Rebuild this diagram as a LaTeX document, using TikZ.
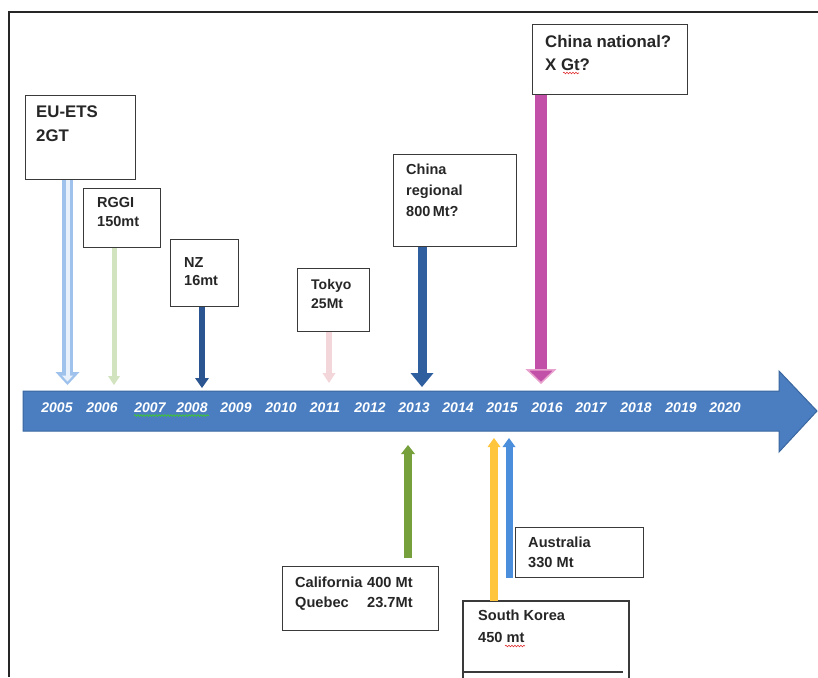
\documentclass[tikz,border=0pt]{standalone}
\usepackage{fontspec}
\setmainfont{Liberation Sans}
\usetikzlibrary{arrows.meta,decorations.pathmorphing}
\definecolor{boxgray}{HTML}{3A3A3A}
\definecolor{txtgray}{HTML}{262626}
\definecolor{tlfill}{HTML}{4A7EC0}
\definecolor{tledge}{HTML}{3A66A0}
\definecolor{euout}{HTML}{9FC2EC}
\definecolor{euin}{HTML}{E8F1FB}
\definecolor{rggicol}{HTML}{D2E3C0}
\definecolor{nzcol}{HTML}{2B5590}
\definecolor{tokcol}{HTML}{F3D6DA}
\definecolor{chrcol}{HTML}{2F5F9F}
\definecolor{chncol}{HTML}{C24FA8}
\definecolor{chnhead}{HTML}{E9A3CF}
\definecolor{calcol}{HTML}{76A03C}
\definecolor{korcol}{HTML}{FEC53D}
\definecolor{auscol}{HTML}{4B8FDC}
\definecolor{spellgreen}{HTML}{40C040}
\definecolor{spellred}{HTML}{E03030}
\begin{document}
\begin{tikzpicture}[x=1pt,y=-1pt,
  box/.style={draw=boxgray, line width=1.2pt, fill=white, inner sep=0pt, anchor=north west},
  boxtxt/.style={anchor=north west, inner sep=0pt, align=left, text=txtgray,
    font=\bfseries\fontsize{14.6}{20}\selectfont},
  bigtxt/.style={boxtxt, font=\bfseries\fontsize{16.8}{23.5}\selectfont},
  yr/.style={anchor=base, inner sep=0pt, text=white, font=\bfseries\itshape\fontsize{14}{14}\selectfont},
  spell/.style={decorate, decoration={snake, segment length=3pt, amplitude=0.8pt}, line width=0.6pt}
]
\useasboundingbox (0,0) rectangle (818,677);
% frame
\draw[line width=2pt, black!85] (818,12) -- (9,12) -- (9,677);

% timeline arrow
\draw[fill=tlfill, draw=tledge, line width=1pt]
  (23,391) -- (779,391) -- (779,371) -- (817,411) -- (779,452) -- (779,431) -- (23,431) -- cycle;

% years
\node[yr] (y05) at (57,412) {2005};
\node[yr] (y06) at (102,412) {2006};
\node[yr] (y07) at (150,412) {2007};
\node[yr] (y08) at (192,412) {2008};
\node[yr] (y09) at (236,412) {2009};
\node[yr] (y10) at (281,412) {2010};
\node[yr] (y11) at (325,412) {2011};
\node[yr] (y12) at (370,412) {2012};
\node[yr] (y13) at (414,412) {2013};
\node[yr] (y14) at (458,412) {2014};
\node[yr] (y15) at (502,412) {2015};
\node[yr] (y16) at (547,412) {2016};
\node[yr] (y17) at (591,412) {2017};
\node[yr] (y18) at (636,412) {2018};
\node[yr] (y19) at (681,412) {2019};
\node[yr] (y20) at (725,412) {2020};
\draw[spell, spellgreen, line width=0.9pt] (134,415.5) -- (209,415.5);

% boxes
\node[box, minimum width=110pt, minimum height=84pt] (eu) at (25,95) {};
\node[box, minimum width=77pt, minimum height=59pt] (rggi) at (83,188) {};
\node[box, minimum width=68pt, minimum height=67pt] (nz) at (170,239) {};
\node[box, minimum width=72pt, minimum height=63pt] (tok) at (297,268) {};
\node[box, minimum width=123pt, minimum height=92pt] (chr) at (393,154) {};
\node[box, minimum width=155pt, minimum height=70pt] (chn) at (532,24) {};
\node[box, minimum width=156pt, minimum height=64pt] (cal) at (282,566) {};
\node[box, minimum width=128pt, minimum height=50pt] (aus) at (515,527) {};
% South Korea box (cut off at the bottom)
\draw[draw=boxgray, line width=1.2pt] (463,680) -- (463,601) -- (629,601) -- (629,680);
\draw[draw=boxgray, line width=1.2pt] (462,672) -- (623,672);
\coordinate (kor) at (546,601);

% texts
\node[bigtxt] (eut) at (36,106) {EU-ETS\\2GT};
\node[boxtxt, font=\bfseries\fontsize{14.5}{19}\selectfont] (rggit) at (97,197.5) {RGGI\\150mt};
\node[boxtxt, font=\bfseries\fontsize{14.5}{18}\selectfont] (nzt) at (184,257.5) {NZ\\16mt};
\node[boxtxt, font=\bfseries\fontsize{14}{19}\selectfont] (tokt) at (311,279) {Tokyo\\25Mt};
\node[boxtxt, font=\bfseries\fontsize{14.5}{21}\selectfont] (chrt) at (406,163.5) {China\\regional\\800\,Mt?};
\node[bigtxt] (chnt) at (545,35) {China national?\\X Gt?};
\draw[spell, spellred] (563,73) -- (579,73);
\node[boxtxt] (calt) at (295,576.5) {\makebox[72pt][l]{California}400 Mt\\\makebox[72pt][l]{Quebec}23.7Mt};
\node[boxtxt] (aust) at (528,536.5) {Australia\\330 Mt};
\node[boxtxt, font=\bfseries\fontsize{14.6}{22}\selectfont] (kort) at (478,609.5) {South Korea\\450 mt};
\draw[spell, spellred] (505,646) -- (525,646);

% tips on the timeline
\coordinate (tEU) at (67.5,385);
\coordinate (tRG) at (114,385);
\coordinate (tNZ) at (202,388);
\coordinate (tTK) at (329,383);
\coordinate (tCR) at (422,387);
\coordinate (tCN) at (541,384);
\coordinate (tCA) at (408,445);
\coordinate (tKO) at (494,438);
\coordinate (tAU) at (509,438);

% connectors above
\draw[euout, line width=11pt, -{Triangle[width=24pt,length=13pt,line width=0pt]}] (eu.south -| tEU) -- (tEU);
\draw[euin, line width=4pt, -{Triangle[width=11pt,length=6pt,line width=0pt]}] (eu.south -| tEU) -- ([yshift=3.5pt]tEU);
\draw[rggicol, line width=5pt, -{Triangle[width=12pt,length=9pt,line width=0pt]}] (rggi.south -| tRG) -- (tRG);
\draw[nzcol, line width=6pt, -{Triangle[width=14pt,length=10pt,line width=0pt]}] (nz.south -| tNZ) -- (tNZ);
\draw[tokcol, line width=5.5pt, -{Triangle[width=13pt,length=10pt,line width=0pt]}] (tok.south -| tTK) -- (tTK);
\draw[chrcol, line width=9pt, -{Triangle[width=23pt,length=14pt,line width=0pt]}] (chr.south -| tCR) -- (tCR);
\draw[chncol, line width=12pt, -{Triangle[width=31pt,length=15pt,line width=1.5pt,fill=chncol,color=chnhead]}] (chn.south -| tCN) -- (tCN);

% connectors below
\draw[calcol, line width=7.5pt, -{Triangle[width=14pt,length=9pt,line width=0pt]}] ([yshift=8pt]cal.north -| tCA) -- (tCA);
\draw[korcol, line width=7.5pt, -{Triangle[width=13pt,length=9pt,line width=0pt]}] (kor -| tKO) -- (tKO);
\draw[auscol, line width=7pt, -{Triangle[width=13pt,length=9pt,line width=0pt]}] (aus.south west -| tAU) -- (tAU);
\end{tikzpicture}
\end{document}
